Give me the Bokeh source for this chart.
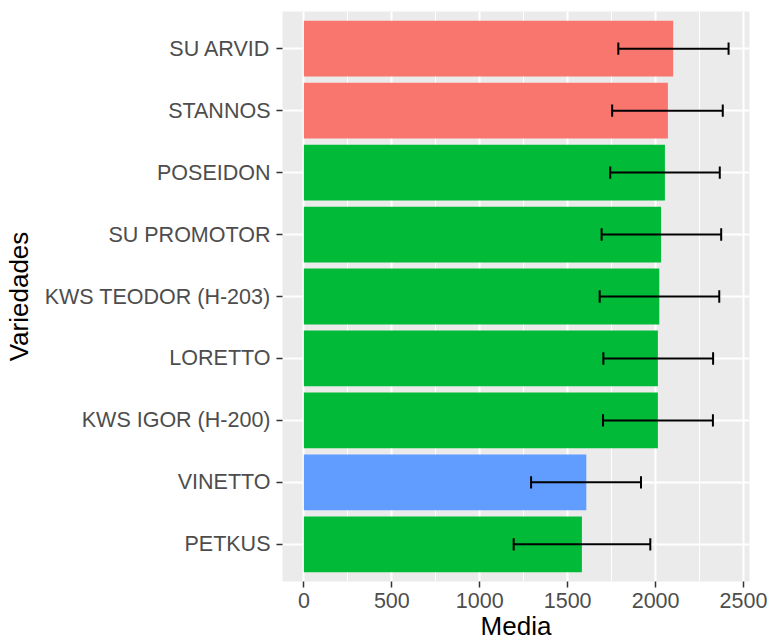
from bokeh.plotting import figure
from bokeh.models import Range1d, FixedTicker, ColumnDataSource
from bokeh.embed import file_html
from bokeh.resources import INLINE

# ---- data (top to bottom as displayed) ----
variedades = ["SU ARVID", "STANNOS", "POSEIDON", "SU PROMOTOR", "KWS TEODOR (H-203)",
              "LORETTO", "KWS IGOR (H-200)", "VINETTO", "PETKUS"]
media = [2100, 2070, 2053, 2031, 2021, 2013, 2013, 1606, 1581]
inferior = [1788, 1753, 1742, 1693, 1682, 1703, 1701, 1292, 1193]
superior = [2415, 2382, 2365, 2373, 2362, 2327, 2326, 1917, 1970]
grupo = ["a", "a", "b", "b", "b", "b", "b", "c", "b"]
paleta = {"a": "#F8766D", "b": "#00BA38", "c": "#619CFF"}
x_ticks = [0, 500, 1000, 1500, 2000, 2500]
x_minor = [250, 750, 1250, 1750, 2250]

n = len(variedades)
pos = [n - i for i in range(n)]

src = ColumnDataSource(dict(
    y=pos, media=media, lo=inferior, hi=superior,
    color=[paleta[g] for g in grupo],
    cap_lo=[p - 0.1 for p in pos], cap_hi=[p + 0.1 for p in pos],
))

FONT = "Liberation Sans"

p = figure(output_backend="svg", toolbar_location=None,
           frame_width=467, frame_height=570,
           min_border_left=277, min_border_top=11, min_border_right=19, min_border_bottom=50,
           x_range=Range1d(-121.6, 2534), y_range=Range1d(0.4, n + 0.6),
           background_fill_color="#EBEBEB", border_fill_color="white")
p.outline_line_color = None

p.hbar(y="y", left=0, right="media", height=0.9, fill_color="color", line_color=None, source=src)
p.segment(x0="lo", x1="hi", y0="y", y1="y", line_color="black", line_width=2, source=src)
p.segment(x0="lo", x1="lo", y0="cap_lo", y1="cap_hi", line_color="black", line_width=2, source=src)
p.segment(x0="hi", x1="hi", y0="cap_lo", y1="cap_hi", line_color="black", line_width=2, source=src)

# axes
p.xaxis.ticker = FixedTicker(ticks=x_ticks, minor_ticks=x_minor)
p.yaxis.ticker = FixedTicker(ticks=pos, minor_ticks=[])
p.yaxis.major_label_overrides = {pp: v for pp, v in zip(pos, variedades)}

for ax in (p.xaxis[0], p.yaxis[0]):
    ax.axis_line_color = None
    ax.major_tick_line_color = "#333333"
    ax.major_tick_line_width = 1.5
    ax.major_tick_out = 6
    ax.major_tick_in = 0
    ax.minor_tick_line_color = None
    ax.major_label_text_font = FONT
    ax.major_label_text_font_size = "21.5px"
    ax.major_label_text_color = "#4D4D4D"
    ax.axis_label_text_font = FONT
    ax.axis_label_text_font_size = "26px"
    ax.axis_label_text_font_style = "normal"
    ax.axis_label_text_color = "black"

p.xaxis.axis_label = "Media"
p.yaxis.axis_label = "Variedades"
p.xaxis.major_label_standoff = 5
p.yaxis.major_label_standoff = 6
p.xaxis.axis_label_standoff = 0
p.yaxis.axis_label_standoff = 8

# grid
p.xgrid.grid_line_color = "white"
p.xgrid.grid_line_width = 2
p.xgrid.minor_grid_line_color = "white"
p.xgrid.minor_grid_line_width = 1
p.ygrid.grid_line_color = "white"
p.ygrid.grid_line_width = 2

open("out.html", "w").write(file_html(p, INLINE))
